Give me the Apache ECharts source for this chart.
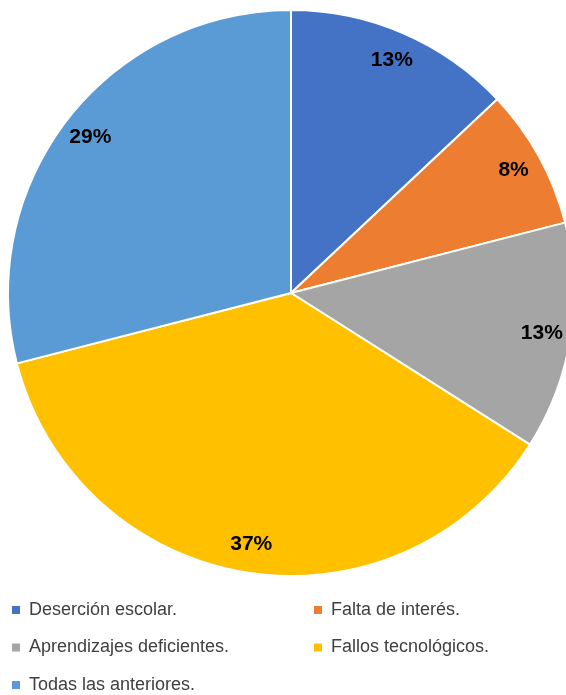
<!DOCTYPE html>
<html>
<head>
<meta charset="utf-8">
<script src="https://cdn.jsdelivr.net/npm/echarts@6/dist/echarts.min.js"></script>
<style>
  html, body { margin: 0; padding: 0; background: #fff; }
  #chart { width: 566px; height: 695px; }
</style>
</head>
<body>
<div id="chart"></div>
<script>
const categories = [
  'Deserción escolar.',
  'Falta de interés.',
  'Aprendizajes deficientes.',
  'Fallos tecnológicos.',
  'Todas las anteriores.'
];
const values = [13, 8, 13, 37, 29];
const colors = ['#4472C4', '#ED7D31', '#A5A5A5', '#FFC000', '#5B9BD5'];

const leftLegend = [categories[0], categories[2], categories[4]];
const rightLegend = [categories[1], categories[3]];

const chart = echarts.init(document.getElementById('chart'), null, { renderer: 'canvas' });

const pieData = categories.map((name, i) => ({
  name,
  value: values[i],
  itemStyle: { color: colors[i] }
}));

const legendText = {
  fontFamily: 'Liberation Sans, Arial, sans-serif',
  fontSize: 18,
  lineHeight: 18,
  color: '#404040',
  padding: [0, 0, 0, 3]
};

function legendAt(data, left) {
  return {
    data,
    orient: 'vertical',
    left,
    top: 601,
    padding: 0,
    icon: 'rect',
    itemWidth: 10,
    itemHeight: 10,
    itemGap: 19.5,
    textStyle: legendText,
    selectedMode: false
  };
}

chart.setOption({
  animation: false,
  legend: [legendAt(leftLegend, 10), legendAt(rightLegend, 312)],
  series: [
    {
      type: 'pie',
      center: [291, 293],
      radius: [0, 283],
      startAngle: 90,
      clockwise: true,
      data: pieData,
      itemStyle: { borderColor: '#fff', borderWidth: 2 },
      label: { show: false },
      labelLine: { show: false },
      silent: true
    },
    {
      // ring only used to place labels near the rim
      type: 'pie',
      center: [291, 293],
      radius: [219, 283],
      startAngle: 90,
      clockwise: true,
      data: pieData.map(d => ({ name: d.name, value: d.value })),
      itemStyle: { color: 'rgba(0,0,0,0)', borderWidth: 0 },
      label: {
        show: true,
        position: 'inside',
        formatter: '{c}%',
        fontFamily: 'Liberation Sans, Arial, sans-serif',
        fontWeight: 'bold',
        fontSize: 21,
        color: '#000'
      },
      labelLine: { show: false },
      silent: true
    }
  ]
});
</script>
</body>
</html>
